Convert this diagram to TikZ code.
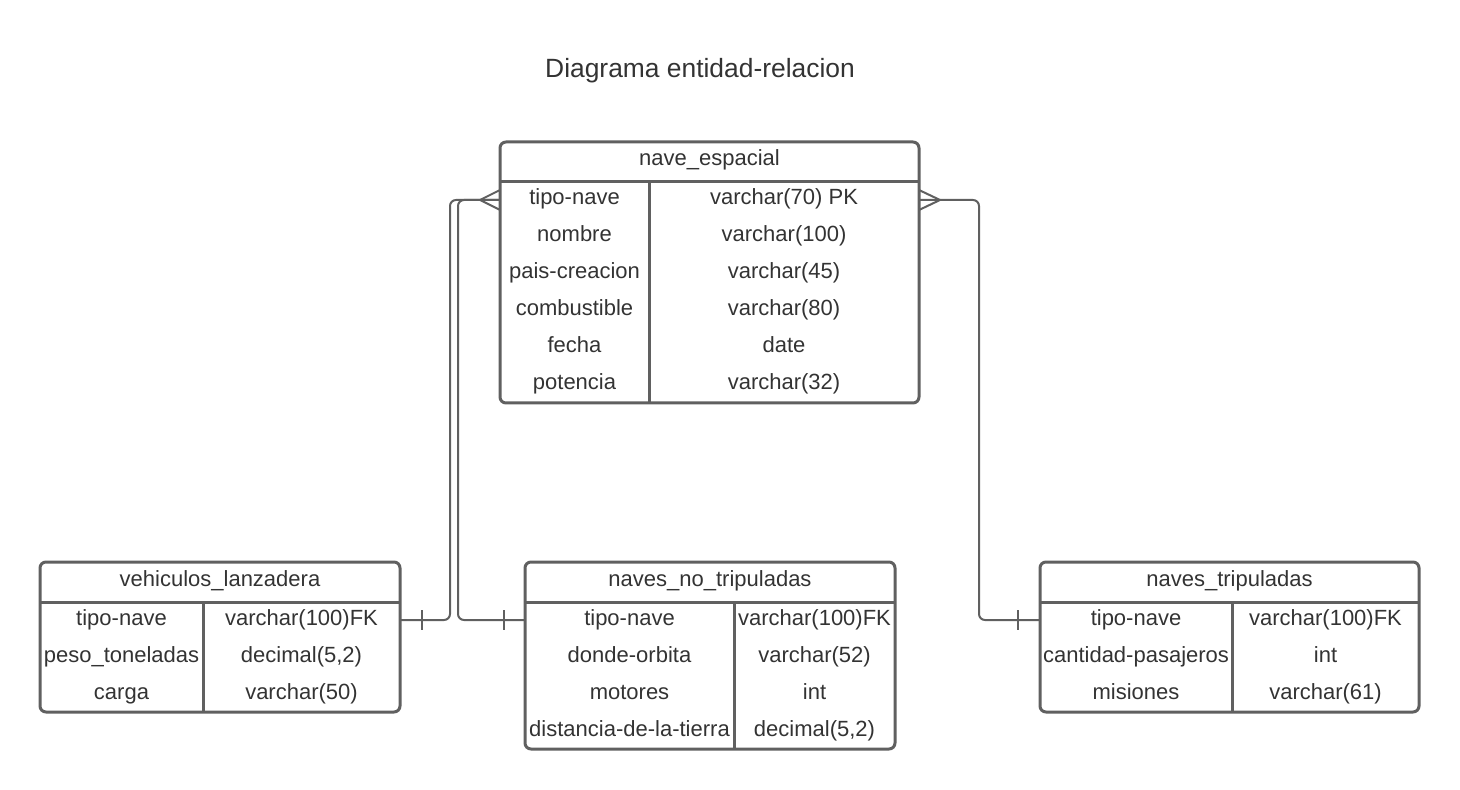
\documentclass[tikz,border=0pt]{standalone}
\usepackage{fontspec}
\setmainfont{Liberation Sans}
\usetikzlibrary{positioning,calc}
\definecolor{lineGray}{HTML}{606060}
\definecolor{textGray}{HTML}{333333}

\begin{document}
\begin{tikzpicture}[x=0.5pt,y=-0.5pt]

    \tikzstyle{table}=[rectangle, draw=lineGray, line width=1.5pt, rounded corners=3pt, inner sep=0pt, outer sep=0pt, anchor=north west]
    \tikzstyle{cell}=[font=\fontsize{11}{13}\selectfont, text=textGray, inner sep=0pt, anchor=base]
    \tikzstyle{rule}=[draw=lineGray, line width=1.5pt]
    \tikzstyle{link}=[draw=lineGray, line width=1pt, rounded corners=3pt]
    \tikzstyle{endMark}=[draw=lineGray, line width=1pt]

    \useasboundingbox (0,0) rectangle (1460,790);

    % Title
    \node at (700,71) [font=\fontsize{13.2}{16}\selectfont, text=textGray] (title) {Diagrama entidad-relacion};

    % nave_espacial
    \node at (500,142) [table, minimum width=209.5pt, minimum height=130.5pt] (NE) {};
    \draw[rule] ($(NE.north west)+(0,40)$) -- ($(NE.north east)+(0,40)$);
    \draw[rule] ($(NE.north west)+(149,40)$) -- ($(NE.south west)+(149,0)$);
    \node at (709.5,166) [cell] (NEh)  {nave\_espacial};
    \node at (574.5,205) [cell] (NEk1) {tipo-nave};
    \node at (784,205)   [cell] (NEv1) {varchar(70) PK};
    \node at (574.5,242) [cell] (NEk2) {nombre};
    \node at (784,242)   [cell] (NEv2) {varchar(100)};
    \node at (574.5,279) [cell] (NEk3) {pais-creacion};
    \node at (784,279)   [cell] (NEv3) {varchar(45)};
    \node at (574.5,316) [cell] (NEk4) {combustible};
    \node at (784,316)   [cell] (NEv4) {varchar(80)};
    \node at (574.5,353) [cell] (NEk5) {fecha};
    \node at (784,353)   [cell] (NEv5) {date};
    \node at (574.5,390) [cell] (NEk6) {potencia};
    \node at (784,390)   [cell] (NEv6) {varchar(32)};

    % vehiculos_lanzadera
    \node at (40,562) [table, minimum width=180pt, minimum height=75pt] (VL) {};
    \draw[rule] ($(VL.north west)+(0,40)$) -- ($(VL.north east)+(0,40)$);
    \draw[rule] ($(VL.north west)+(163,40)$) -- ($(VL.south west)+(163,0)$);
    \node at (220,586)   [cell] (VLh)  {vehiculos\_lanzadera};
    \node at (121.5,625) [cell] (VLk1) {tipo-nave};
    \node at (301.5,625) [cell] (VLv1) {varchar(100)FK};
    \node at (121.5,662) [cell] (VLk2) {peso\_toneladas};
    \node at (301.5,662) [cell] (VLv2) {decimal(5,2)};
    \node at (121.5,699) [cell] (VLk3) {carga};
    \node at (301.5,699) [cell] (VLv3) {varchar(50)};

    % naves_no_tripuladas
    \node at (525,562) [table, minimum width=185pt, minimum height=93.5pt] (NNT) {};
    \draw[rule] ($(NNT.north west)+(0,40)$) -- ($(NNT.north east)+(0,40)$);
    \draw[rule] ($(NNT.north west)+(209,40)$) -- ($(NNT.south west)+(209,0)$);
    \node at (710,586)   [cell] (NNTh)  {naves\_no\_tripuladas};
    \node at (629.5,625) [cell] (NNTk1) {tipo-nave};
    \node at (814.5,625) [cell] (NNTv1) {varchar(100)FK};
    \node at (629.5,662) [cell] (NNTk2) {donde-orbita};
    \node at (814.5,662) [cell] (NNTv2) {varchar(52)};
    \node at (629.5,699) [cell] (NNTk3) {motores};
    \node at (814.5,699) [cell] (NNTv3) {int};
    \node at (629.5,736) [cell] (NNTk4) {distancia-de-la-tierra};
    \node at (814.5,736) [cell] (NNTv4) {decimal(5,2)};

    % naves_tripuladas
    \node at (1040,562) [table, minimum width=189.5pt, minimum height=75pt] (NT) {};
    \draw[rule] ($(NT.north west)+(0,40)$) -- ($(NT.north east)+(0,40)$);
    \draw[rule] ($(NT.north west)+(192,40)$) -- ($(NT.south west)+(192,0)$);
    \node at (1229.5,586) [cell] (NTh)  {naves\_tripuladas};
    \node at (1136,625)   [cell] (NTk1) {tipo-nave};
    \node at (1325.5,625) [cell] (NTv1) {varchar(100)FK};
    \node at (1136,662)   [cell] (NTk2) {cantidad-pasajeros};
    \node at (1325.5,662) [cell] (NTv2) {int};
    \node at (1136,699)   [cell] (NTk3) {misiones};
    \node at (1325.5,699) [cell] (NTv3) {varchar(61)};

    % Connector ends
    \coordinate (NEl)  at ($(NE.north west)+(0,58)$);
    \coordinate (NEr)  at ($(NE.north east)+(0,58)$);
    \coordinate (VLr)  at ($(VL.north east)+(0,58)$);
    \coordinate (NNTl) at ($(NNT.north west)+(0,58)$);
    \coordinate (NTl)  at ($(NT.north west)+(0,58)$);

    % Relations
    \draw[link] (NEl) -- ($(NEl)+(-50,0)$) |- (VLr);
    \draw[link] (NEl) -- ($(NEl)+(-42,0)$) |- (NNTl);
    \draw[link] (NEr) -- ($(NEr)+(60,0)$) |- (NTl);

    % Crow's feet (many)
    \draw[endMark] ($(NEl)+(0,-10)$) -- ($(NEl)+(-20,0)$) -- ($(NEl)+(0,10)$);
    \draw[endMark] ($(NEr)+(0,-10)$) -- ($(NEr)+(21,0)$) -- ($(NEr)+(0,10)$);

    % Ticks (one)
    \draw[endMark] ($(VLr)+(22,-10)$) -- ($(VLr)+(22,10)$);
    \draw[endMark] ($(NNTl)+(-21,-10)$) -- ($(NNTl)+(-21,10)$);
    \draw[endMark] ($(NTl)+(-22,-10)$) -- ($(NTl)+(-22,10)$);

\end{tikzpicture}
\end{document}
